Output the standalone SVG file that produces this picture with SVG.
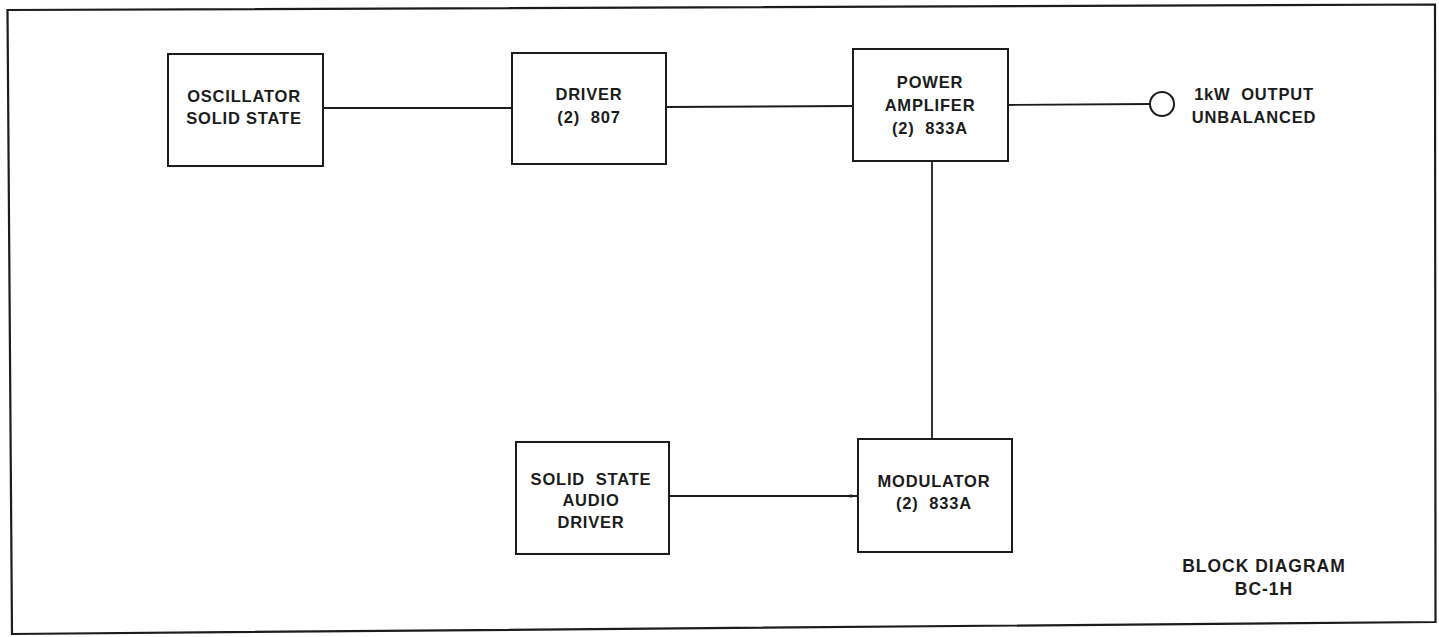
<svg xmlns="http://www.w3.org/2000/svg" width="1439" height="637" viewBox="0 0 1439 637">
<defs>
<style>
.box{fill:#fff;stroke:#1c1c1c;stroke-width:2}
.ln{fill:none;stroke:#1c1c1c;stroke-width:1.8}
.t{font-family:"Liberation Sans",Arial,sans-serif;font-weight:bold;font-size:16.5px;fill:#1c1c1c;text-anchor:middle;letter-spacing:0.8px;white-space:pre}
.big{font-size:17.5px;letter-spacing:1px}
</style>
<marker id="arr" markerWidth="8" markerHeight="6" refX="7" refY="3" orient="auto" markerUnits="userSpaceOnUse">
<path d="M0,1.2 L7,3 L0,4.8 Z" fill="#1c1c1c"/>
</marker>
</defs>
<rect x="0" y="0" width="1439" height="637" fill="#fff"/>
<polygon id="frame" points="7.5,10 1435,4.5 1435.5,622 12,634" fill="none" stroke="#1c1c1c" stroke-width="2.2"/>
<g id="connectors">
<line class="ln" x1="323" y1="108" x2="512" y2="108"/>
<line class="ln" x1="666" y1="107" x2="853" y2="106"/>
<line class="ln" x1="1008" y1="105" x2="1150" y2="104"/>
<line class="ln" x1="932" y1="161" x2="932" y2="439"/>
<line class="ln" x1="669" y1="496" x2="857" y2="496" marker-end="url(#arr)"/>
</g>
<g id="osc">
<rect class="box" x="168" y="54" width="155" height="112"/>
<text class="t" x="244" y="102">OSCILLATOR</text>
<text class="t" x="244" y="124">SOLID STATE</text>
</g>
<g id="driver">
<rect class="box" x="512" y="53" width="154" height="111"/>
<text class="t" x="589" y="100">DRIVER</text>
<text class="t" x="589" y="123">(2)  807</text>
</g>
<g id="pa">
<rect class="box" x="853" y="49" width="155" height="112"/>
<text class="t" x="930" y="88">POWER</text>
<text class="t" x="930" y="111">AMPLIFER</text>
<text class="t" x="930" y="134">(2)  833A</text>
</g>
<g id="output">
<circle cx="1162" cy="104" r="12" fill="#fff" stroke="#1c1c1c" stroke-width="2"/>
<text class="t" x="1254" y="100">1kW  OUTPUT</text>
<text class="t" x="1254" y="123">UNBALANCED</text>
</g>
<g id="audio">
<rect class="box" x="516" y="442" width="153" height="112"/>
<text class="t" x="591" y="485">SOLID  STATE</text>
<text class="t" x="591" y="506">AUDIO</text>
<text class="t" x="591" y="528">DRIVER</text>
</g>
<g id="modulator">
<rect class="box" x="858" y="439" width="154" height="113"/>
<text class="t" x="934" y="487">MODULATOR</text>
<text class="t" x="934" y="509">(2)  833A</text>
</g>
<g id="title">
<text class="t big" x="1264" y="572">BLOCK DIAGRAM</text>
<text class="t big" x="1264" y="595">BC-1H</text>
</g>
</svg>
